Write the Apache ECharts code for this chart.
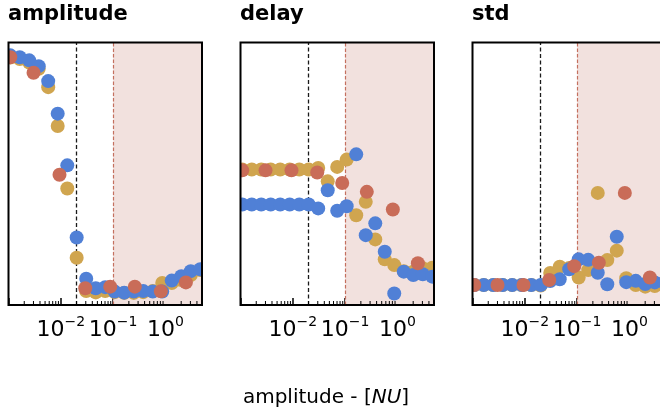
<!DOCTYPE html>
<html>
<head>
<meta charset="utf-8">
<script src="https://cdn.jsdelivr.net/npm/echarts@6.0.0/dist/echarts.min.js"></script>
<style>
  html, body { margin: 0; padding: 0; background: #fff; }
  #chart { width: 660px; height: 416px; }
</style>
</head>
<body>
<div id="chart"></div>
<script>
// Sweep of input amplitude (log spaced), dense and sparse runs
const xDense = [0.00108, 0.00164, 0.00249, 0.00378, 0.00574, 0.00872, 0.0133, 0.0201, 0.0306, 0.0465, 0.0706,
                0.107, 0.163, 0.248, 0.377, 0.572, 0.869, 1.32, 2.01, 3.05, 4.63];
const xSparse = [0.00108, 0.00301, 0.00944, 0.0293, 0.088, 0.26, 0.817, 2.46];

// Panel titles and axis text
const panelTitles = ['amplitude', 'delay', 'std'];
const xAxisTitle = 'amplitude - ';
const xAxisUnit = 'NU';

// Values per panel and run
const ampBlue  = [95.1, 94.4, 93.2, 91.0, 85.3, 72.9, 53.2, 25.7, 10.0, 6.4, 6.8, 5.1, 4.7, 5.1, 5.3, 5.1, 5.1, 9.3, 11.0, 12.9, 13.6];
const ampGold  = [94.3, 93.7, 92.4, 90.0, 83.0, 68.2, 44.4, 18.0, 5.3, 4.8, 5.3, 4.9, 4.6, 4.6, 4.9, 5.3, 8.4, 8.4, 9.5, 11.4, 13.3];
const ampRed   = [94.4, 88.5, 49.6, 6.4, 7.0, 7.0, 5.2, 8.6];

const delayBlue = [38.3, 38.3, 38.3, 38.3, 38.3, 38.3, 38.3, 38.3, 36.8, 43.7, 35.9, 37.6, 57.4, 26.6, 31.1, 20.3, 4.4, 12.7, 11.4, 11.7, 10.8];
const delayGold = [51.6, 51.6, 51.6, 51.6, 51.6, 51.6, 51.6, 51.6, 52.2, 47.1, 52.6, 55.4, 34.2, 39.3, 25.0, 17.4, 15.2, 12.9, 12.7, 14.0, 14.2];
const delayRed  = [51.3, 51.3, 51.3, 50.5, 46.5, 43.1, 36.4, 15.9];

const stdBlue = [7.6, 7.6, 7.6, 7.6, 7.6, 7.6, 7.6, 7.6, 9.1, 9.8, 13.6, 17.4, 17.2, 12.3, 7.9, 26.0, 8.7, 9.2, 8.0, 8.6, 8.6];
const stdGold = [7.6, 7.6, 7.6, 7.6, 7.6, 7.6, 7.6, 7.4, 12.2, 14.6, 14.1, 10.5, 13.3, 42.7, 17.1, 20.7, 10.2, 7.6, 7.0, 7.2, 7.6];
const stdRed  = [7.6, 7.6, 7.6, 9.5, 14.8, 16.1, 42.7, 10.5];

// Threshold markers and shaded range
const thresholdLow = 0.02;
const thresholdHigh = 0.1;
const xMin = 0.001;
const xMax = 5;

const panels = [
  { blue: ampBlue,   gold: ampGold,   red: ampRed },
  { blue: delayBlue, gold: delayGold, red: delayRed },
  { blue: stdBlue,   gold: stdGold,   red: stdRed }
];

const COLORS = { blue: '#5080d6', gold: '#d0a54f', red: '#c96c58' };
const FONT = 'DejaVu Sans';
const MARKER_R = 7;
const gridLefts = [8.5, 240.5, 472.5];
const gridTop = 42.5, gridW = 193.5, gridH = 262.5;

// minor log ticks (2..9 per decade) inside the axis range
const minorTicks = [];
for (let e = -3; e <= 0; e++) {
  for (let m = 2; m <= 9; m++) {
    const v = m * Math.pow(10, e);
    if (v < xMax) minorTicks.push(v);
  }
}

const pair = (xs, ys) => ys.map((y, i) => [xs[i], y]);

// filled circles, clipped to the plot frame
function dotSeries(i, xs, ys, color, extra) {
  return Object.assign({
    type: 'custom', xAxisIndex: i, yAxisIndex: i, z: 3, clip: true,
    data: pair(xs, ys),
    renderItem: function (params, api) {
      const c = api.coord([api.value(0), api.value(1)]);
      return {
        type: 'circle',
        shape: { cx: c[0], cy: c[1], r: MARKER_R },
        style: { fill: color, stroke: null }
      };
    }
  }, extra || {});
}

const grid = [], xAxis = [], yAxis = [], series = [], title = [];

panels.forEach((p, i) => {
  grid.push({
    left: gridLefts[i], top: gridTop, width: gridW, height: gridH,
    outerBoundsMode: 'none', containLabel: false,
    show: true, z: 10, backgroundColor: 'transparent',
    borderColor: '#000', borderWidth: 2
  });
  title.push({
    text: panelTitles[i], left: gridLefts[i] - 0.5, top: 4, padding: 0,
    textStyle: { fontFamily: FONT, fontWeight: 'bold', fontSize: 21, color: '#000' }
  });
  xAxis.push({
    type: 'log', logBase: 10, gridIndex: i, min: xMin, max: xMax, interval: 1,
    axisLine: { show: false },
    splitLine: { show: false },
    axisTick: { show: true, inside: true, length: 7, lineStyle: { color: '#000', width: 1.5 } },
    axisLabel: {
      margin: 10,
      formatter: function (v) {
        const lg = Math.log10(v);
        const e = Math.round(lg);
        if (Math.abs(lg - e) > 1e-6 || e < -2) return '';
        const sup = e < 0 ? '\u2212' + (-e) : String(e);
        return '{b|10}{s|' + sup + '}';
      },
      rich: {
        b: { fontFamily: FONT, fontSize: 22, color: '#000' },
        s: { fontFamily: FONT, fontSize: 14, color: '#000', padding: [0, 0, 16, 0] }
      }
    }
  });
  yAxis.push({ type: 'value', gridIndex: i, min: 0, max: 100, show: false });

  series.push(dotSeries(i, xDense, p.gold, COLORS.gold, {
    markArea: {
      silent: true, z: 1,
      itemStyle: { color: '#f2e1de' },
      data: [[{ xAxis: thresholdHigh }, { xAxis: xMax }]]
    },
    markLine: {
      silent: true, z: 2, symbol: 'none', animation: false,
      label: { show: false },
      data: [
        { xAxis: thresholdLow, lineStyle: { color: '#1a1a1a', type: [4, 2.5], width: 1.3 } },
        { xAxis: thresholdHigh, lineStyle: { color: '#c4705f', type: [3.5, 2], width: 1.2 } }
      ]
    }
  }));
  series.push(dotSeries(i, xDense, p.blue, COLORS.blue));
  series.push(dotSeries(i, xSparse, p.red, COLORS.red));

  // minor ticks along the bottom spine
  series.push({
    type: 'custom', xAxisIndex: i, yAxisIndex: i, z: 4, silent: true,
    data: minorTicks.map(v => [v]),
    renderItem: function (params, api) {
      const pt = api.coord([api.value(0), 0]);
      return {
        type: 'line',
        shape: { x1: pt[0], y1: pt[1], x2: pt[0], y2: pt[1] - 4 },
        style: { stroke: '#000', lineWidth: 1 }
      };
    }
  });
});

const chart = echarts.init(document.getElementById('chart'), null, { renderer: 'canvas' });
chart.setOption({
  animation: false,
  title: title,
  grid: grid,
  xAxis: xAxis,
  yAxis: yAxis,
  series: series,
  graphic: [{
    type: 'text', x: 326, y: 398,
    style: {
      text: '{r|' + xAxisTitle + '[}{i|' + xAxisUnit + '}{r|]}',
      align: 'center', verticalAlign: 'middle',
      rich: {
        r: { fontFamily: FONT, fontSize: 20, color: '#000' },
        i: { fontFamily: FONT, fontSize: 20, fontStyle: 'italic', color: '#000' }
      }
    }
  }]
});
</script>
</body>
</html>
